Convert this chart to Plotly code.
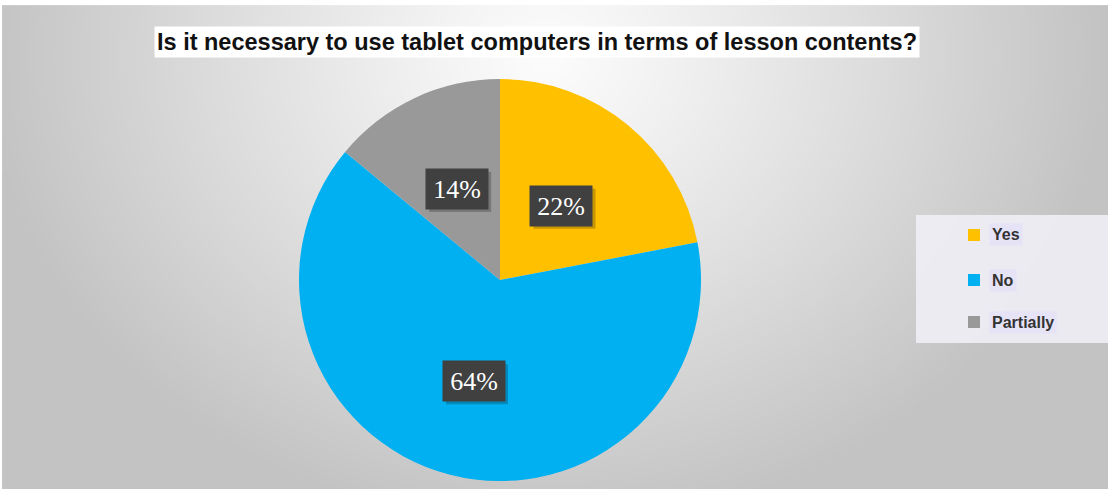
import numpy as np
import plotly.graph_objects as go

# ---- data ----
categories = ["Yes", "No", "Partially"]
values = [22, 64, 14]
slice_colors = ["#FFC000", "#00B0F0", "#999999"]
title_text = "Is it necessary to use tablet computers in terms of lesson contents?"

W, H = 1108, 489

# ---- gradient background (heatmap in pixel coords) ----
gx = np.linspace(7, W, 112)
gy = np.linspace(10, H, 50)
XX, YY = np.meshgrid(gx, gy)
d = np.sqrt(((XX - 545) / 560.0) ** 2 + ((YY - 55) / 470.0) ** 2)
d = np.clip(d, 0, 1)
z = 252 - (252 - 195) * d ** 1.1

fig = go.Figure()
fig.add_trace(go.Heatmap(
    x=gx, y=gy, z=z, zmin=0, zmax=255, zsmooth="best",
    colorscale=[[0, "rgb(0,0,0)"], [1, "rgb(255,255,255)"]],
    showscale=False, hoverinfo="skip", xaxis="x", yaxis="y"))

# ---- pie geometry (pixels) ----
pcx, pcy, pr = 500, 280, 201
dom_x = [(pcx - pr) / W, (pcx + pr) / W]
dom_y = [(H - pcy - pr) / H, (H - pcy + pr) / H]

fig.add_trace(go.Pie(
    labels=categories, values=values, sort=False, direction="clockwise",
    rotation=0, marker=dict(colors=slice_colors, line=dict(width=0)),
    textinfo="none", showlegend=False, domain=dict(x=dom_x, y=dom_y),
    hoverinfo="label+percent"))

shapes = []
annotations = []

# subtle pie shadow
for i, a in enumerate([0.05, 0.04, 0.03]):
    g = 4 + 3 * i
    shapes.append(dict(type="circle", xref="paper", yref="paper",
                       x0=(pcx - pr - g + 2) / W, x1=(pcx + pr + g + 2) / W,
                       y0=(H - pcy - pr - g - 2) / H, y1=(H - pcy + pr + g - 2) / H,
                       fillcolor=f"rgba(0,0,0,{a})", line=dict(width=0), layer="below"))

# ---- percentage labels in dark boxes ----
total = sum(values)
cum = 0
rfrac = [0.48, 0.52, 0.5]
bw, bh = 62, 40
for i, v in enumerate(values):
    mid = (cum + v / 2) / total * 2 * np.pi
    cum += v
    lx = pcx + pr * rfrac[i] * np.sin(mid)
    ly = pcy - pr * rfrac[i] * np.cos(mid)
    txt = f"{round(v / total * 100)}%"
    # soft shadow under the box
    shapes.append(dict(type="rect", xref="paper", yref="paper",
                       x0=(lx - bw / 2 + 3) / W, x1=(lx + bw / 2 + 3) / W,
                       y0=(H - ly - bh / 2 - 3) / H, y1=(H - ly + bh / 2 - 3) / H,
                       fillcolor="rgba(0,0,0,0.22)", line=dict(width=0), layer="above"))
    annotations.append(dict(x=lx / W, y=(H - ly) / H, xref="paper", yref="paper",
                            xanchor="center", yanchor="middle",
                            text=txt, showarrow=False, bgcolor="#404040",
                            width=bw - 2 * 7, height=bh - 2 * 7, borderpad=7,
                            font=dict(family="Liberation Serif, Times New Roman, serif",
                                      size=26, color="white")))

# ---- title ----
annotations.append(dict(x=537 / W, y=(H - 42) / H, xref="paper", yref="paper",
                        xanchor="center", yanchor="middle",
                        text=f"<b>{title_text}</b>", showarrow=False, bgcolor="white",
                        borderpad=2,
                        font=dict(family="Liberation Sans Narrow, Arial Narrow, Liberation Sans, sans-serif",
                                  size=23.5, color="#111111")))

# ---- custom legend ----
shapes.append(dict(type="rect", xref="paper", yref="paper",
                   x0=916 / W, x1=1.0, y0=(H - 343) / H, y1=(H - 215) / H,
                   fillcolor="rgba(238,238,245,0.9)", line=dict(width=0)))
leg_y = [235, 280, 322]
for i, cat in enumerate(categories):
    yy = leg_y[i]
    shapes.append(dict(type="rect", xref="paper", yref="paper",
                       x0=968 / W, x1=980 / W, y0=(H - yy - 6) / H, y1=(H - yy + 6) / H,
                       fillcolor=slice_colors[i], line=dict(width=0)))
    annotations.append(dict(x=989 / W, y=(H - yy) / H, xref="paper", yref="paper",
                            xanchor="left", yanchor="middle",
                            text=f"<b>{cat}</b>", showarrow=False,
                            bgcolor="rgba(230,226,248,0.85)", borderpad=2,
                            font=dict(family="Liberation Sans, Arial, sans-serif",
                                      size=16, color="#333333")))

fig.update_layout(
    width=W, height=H, margin=dict(l=0, r=0, t=0, b=0),
    paper_bgcolor="white", plot_bgcolor="white",
    xaxis=dict(range=[0, W], visible=False, fixedrange=True),
    yaxis=dict(range=[H, 0], visible=False, fixedrange=True),
    shapes=shapes, annotations=annotations, showlegend=False,
)

fig.write_html("out.html")
